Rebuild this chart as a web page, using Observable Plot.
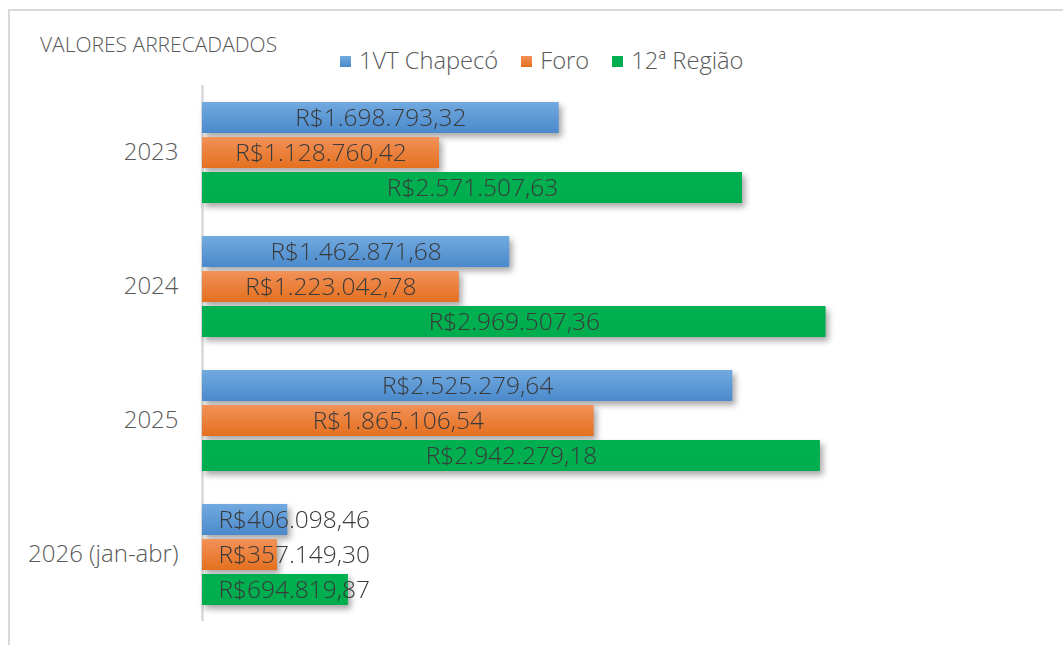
<!DOCTYPE html>
<html><head><meta charset="utf-8">
<script src="https://cdn.jsdelivr.net/npm/d3@7"></script>
<script src="https://cdn.jsdelivr.net/npm/@observablehq/plot@0.6"></script>
<style>
body{margin:0;background:#fff;font-family:"Open Sans",sans-serif;}
#wrap{position:relative;width:1063px;height:645px;overflow:hidden;background:#fff;}
#frame{position:absolute;left:8px;top:9px;width:1200px;height:800px;border-left:2px solid #d9d9d9;border-top:2px solid #d9d9d9;}
#title{position:absolute;left:40px;top:29px;font-size:21px;line-height:30px;color:#595959;font-weight:300;}
#legend{position:absolute;left:340px;top:44px;font-size:23.7px;line-height:32px;color:#595959;display:flex;align-items:center;font-weight:300;}
#legend .it{display:flex;align-items:center;margin-right:23px;}
#legend .sw{width:11px;height:11px;margin-right:8px;margin-top:2px;}
#chart{position:absolute;left:0;top:80px;}
</style></head>
<body><div id="wrap"><div id="frame"></div><div id="title">VALORES ARRECADADOS</div><div id="legend"></div><div id="chart"></div></div>
<script>
const years = ["2023", "2024", "2025", "2026 (jan-abr)"];
const series = ["1VT Chapecó", "Foro", "12ª Região"];
const vt = [1698793.32, 1462871.68, 2525279.64, 406098.46];
const foro = [1128760.42, 1223042.78, 1865106.54, 357149.30];
const regiao = [2571507.63, 2969507.36, 2942279.18, 694819.87];
const gradTop = ["#72aae0", "#f29158", "#00b050"];
const gradBot = ["#4a89cb", "#e4701f", "#00ad4e"];

const vals = [vt, foro, regiao];
const data = [];
years.forEach((y, i) => series.forEach((s, j) => data.push({year: y, series: s, value: vals[j][i]})));
const fmt = v => "R$" + v.toLocaleString("pt-BR", {minimumFractionDigits: 2, maximumFractionDigits: 2});
const threshold = 1000000;

const legend = document.getElementById("legend");
series.forEach((s, j) => {
  const it = document.createElement("div"); it.className = "it";
  const sw = document.createElement("div"); sw.className = "sw";
  sw.style.background = `linear-gradient(${gradTop[j]}, ${gradBot[j]})`;
  const t = document.createElement("span"); t.textContent = s;
  it.appendChild(sw); it.appendChild(t); legend.appendChild(it);
});

const chart = Plot.plot({
  width: 1063, height: 565,
  marginLeft: 202, marginRight: 126, marginTop: 5, marginBottom: 24,
  style: {fontFamily: "'Open Sans', sans-serif", fontSize: "24px", fontWeight: 300, color: "#595959", background: "transparent"},
  x: {domain: [0, 3500000], axis: null},
  y: {domain: series, paddingInner: 0.127, paddingOuter: 0.45, axis: null},
  fy: {domain: years, padding: 0, axis: "left", tickSize: 0, tickPadding: 24, label: null},
  color: {domain: series, range: series.map((s, j) => `url(#grad${j})`)},
  marks: [
    Plot.ruleX([0], {stroke: "#d9d9d9", strokeWidth: 2.5}),
    Plot.barX(data, {x: "value", y: "series", fy: "year", fill: "series"}),
    Plot.text(data.filter(d => d.value >= threshold), {x: d => d.value / 2, y: "series", fy: "year", text: d => fmt(d.value), fill: "#3a3a3a", fontSize: 24.5, fontWeight: 300, textAnchor: "middle"}),
    Plot.text(data.filter(d => d.value < threshold), {x: 0, y: "series", fy: "year", text: d => fmt(d.value), fill: "#3a3a3a", fontSize: 24.5, fontWeight: 300, textAnchor: "start", dx: 16})
  ]
});
document.getElementById("chart").appendChild(chart);
const svg = d3.select(chart);
const defs = svg.insert("defs", ":first-child");
series.forEach((s, j) => {
  const g = defs.append("linearGradient").attr("id", `grad${j}`).attr("x1", 0).attr("y1", 0).attr("x2", 0).attr("y2", 1);
  g.append("stop").attr("offset", "0%").attr("stop-color", gradTop[j]);
  g.append("stop").attr("offset", "100%").attr("stop-color", gradBot[j]);
});
svg.selectAll('g[aria-label="bar"]').style("filter", "drop-shadow(3px 4px 3px rgba(0,0,0,0.35))");
</script></body></html>
